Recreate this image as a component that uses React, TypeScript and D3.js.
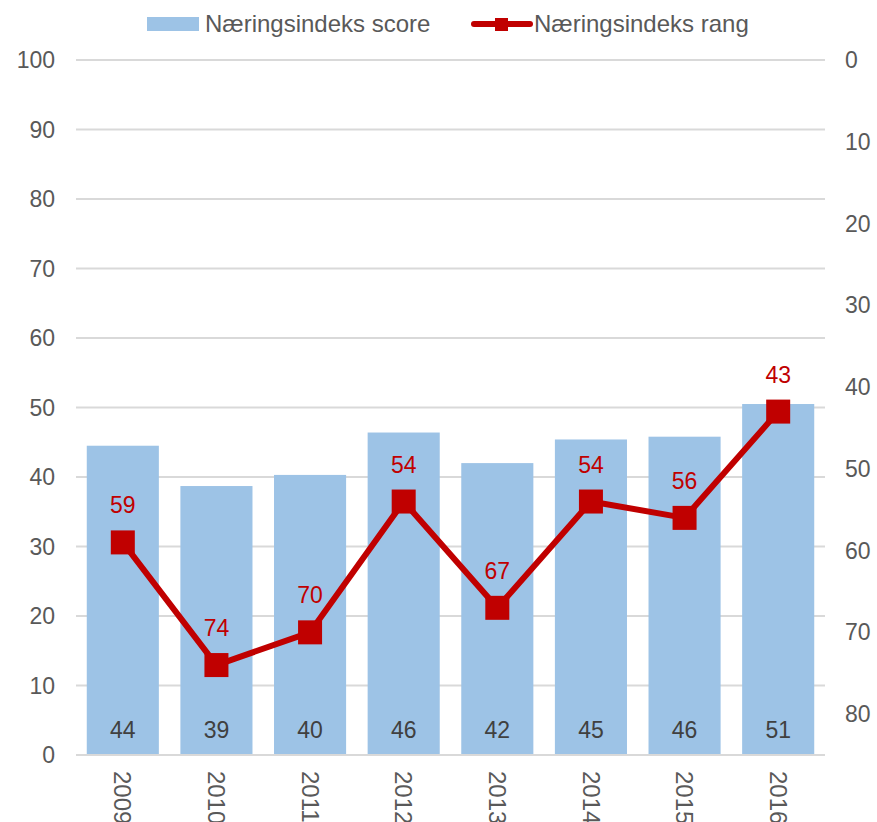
import React from "react";
import * as d3 from "d3";

const years = ["2009", "2010", "2011", "2012", "2013", "2014", "2015", "2016"];
const scores = [44.5, 38.7, 40.3, 46.4, 42.0, 45.4, 45.8, 50.5];
const scoreLabels = ["44", "39", "40", "46", "42", "45", "46", "51"];
const ranks = [59, 74, 70, 54, 67, 54, 56, 43];
const leftTicks = [0, 10, 20, 30, 40, 50, 60, 70, 80, 90, 100];
const rightTicks = [0, 10, 20, 30, 40, 50, 60, 70, 80];

const W = 877, H = 822;
const L = 76, R = 825, T = 60, B = 755;
const FONT = "'Liberation Sans', Arial, sans-serif";
const FS = 23;
const TXT = "#595959";
const BAR = "#9DC3E6";
const RED = "#C00000";

export default function App() {
  const x = d3.scaleBand().domain(years).range([L, R]).paddingInner(0.23).paddingOuter(0.115);
  const yL = d3.scaleLinear().domain([0, 100]).range([B, T]);
  const yR = d3.scaleLinear().domain([0, 85]).range([T, B]);
  const cx = (d: string) => (x(d) as number) + x.bandwidth() / 2;
  const line = d3.line<number>().x((_, i) => cx(years[i])).y((d) => yR(d));
  const ms = 24;

  return (
    <svg width={W} height={H} style={{ position: "absolute", left: 0, top: 0, background: "#fff" }} fontFamily={FONT}>
      {leftTicks.map((t) => (
        <line key={"g" + t} x1={L} x2={R} y1={yL(t)} y2={yL(t)} stroke="#D9D9D9" strokeWidth={2} />
      ))}
      {leftTicks.map((t) => (
        <text key={"l" + t} x={55} y={yL(t)} dy="0.35em" textAnchor="end" fontSize={FS} fill={TXT}>{t}</text>
      ))}
      {rightTicks.map((t) => (
        <text key={"r" + t} x={845} y={yR(t)} dy="0.35em" textAnchor="start" fontSize={FS} fill={TXT}>{t}</text>
      ))}
      {years.map((yr, i) => (
        <rect key={"b" + yr} x={x(yr)} y={yL(scores[i])} width={x.bandwidth()} height={B - yL(scores[i])} fill={BAR} />
      ))}
      {years.map((yr, i) => (
        <text key={"bl" + yr} x={cx(yr)} y={738} textAnchor="middle" fontSize={FS} fill="#404040">{scoreLabels[i]}</text>
      ))}
      <line x1={L} x2={R} y1={B} y2={B} stroke="#D9D9D9" strokeWidth={2} />
      <path d={line(ranks) || ""} fill="none" stroke={RED} strokeWidth={6} strokeLinejoin="round" />
      {years.map((yr, i) => (
        <rect key={"m" + yr} x={cx(yr) - ms / 2} y={yR(ranks[i]) - ms / 2} width={ms} height={ms} fill={RED} />
      ))}
      {years.map((yr, i) => (
        <text key={"rl" + yr} x={cx(yr)} y={yR(ranks[i]) - 29} textAnchor="middle" fontSize={FS} fill={RED}>{ranks[i]}</text>
      ))}
      {years.map((yr) => (
        <text key={"x" + yr} transform={`translate(${cx(yr)},771) rotate(90)`} dy="0.35em" textAnchor="start" fontSize={24} fill={TXT}>{yr}</text>
      ))}
      <rect x={147} y={17} width={52} height={14} fill={BAR} />
      <text x={205} y={24} dy="0.35em" fontSize={24} fill={TXT}>Næringsindeks score</text>
      <line x1={474} x2={530} y1={24} y2={24} stroke={RED} strokeWidth={6} strokeLinecap="round" />
      <rect x={495} y={18} width={13} height={13} fill={RED} />
      <text x={534} y={24} dy="0.35em" fontSize={24} fill={TXT}>Næringsindeks rang</text>
    </svg>
  );
}
